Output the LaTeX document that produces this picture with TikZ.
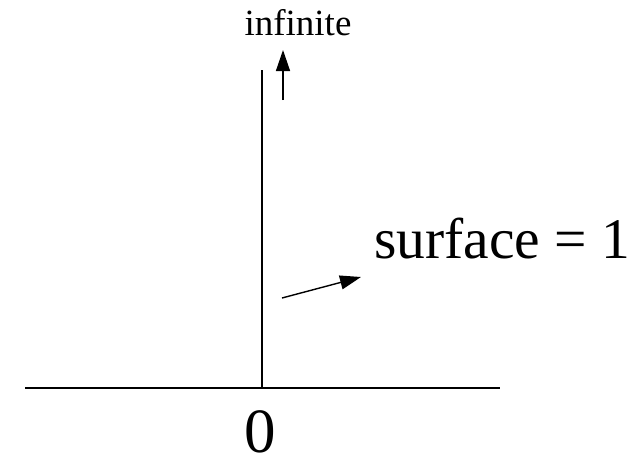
\documentclass[tikz,border=0pt]{standalone}
\usepackage{fontspec}
\setmainfont{Liberation Serif}
\usetikzlibrary{arrows.meta}
\begin{document}
\begin{tikzpicture}[x=1pt,y=-1pt,
  ln/.style={line width=1.5pt},
  arr/.style={line width=1.4pt,-{Triangle[length=21pt,width=14pt]}},
  lbl/.style={inner sep=0pt,anchor=base}]
\useasboundingbox (0,0) rectangle (633,459);
\coordinate (hl) at (25,388);
\coordinate (hr) at (500,388);
\coordinate (vb) at (262,388);
\coordinate (vt) at (262,70);
\draw[ln] (hl) -- (hr);
\draw[ln] (vb) -- (vt);
\coordinate (a1s) at (283,100);
\coordinate (a1e) at (283,50);
\draw[arr] (a1s) -- (a1e);
\coordinate (a2s) at (282,298);
\coordinate (a2e) at (361,277);
\draw[arr] (a2s) -- (a2e);
\node[lbl] (inf) at (298,35) {\fontsize{37}{40}\selectfont infinite};
\node[lbl,anchor=base west] (surf) at (374,258) {\fontsize{57.5}{60}\selectfont surface = 1};
\node[lbl] (zero) at (260,452) {\fontsize{63}{66}\selectfont 0};
\end{tikzpicture}
\end{document}
